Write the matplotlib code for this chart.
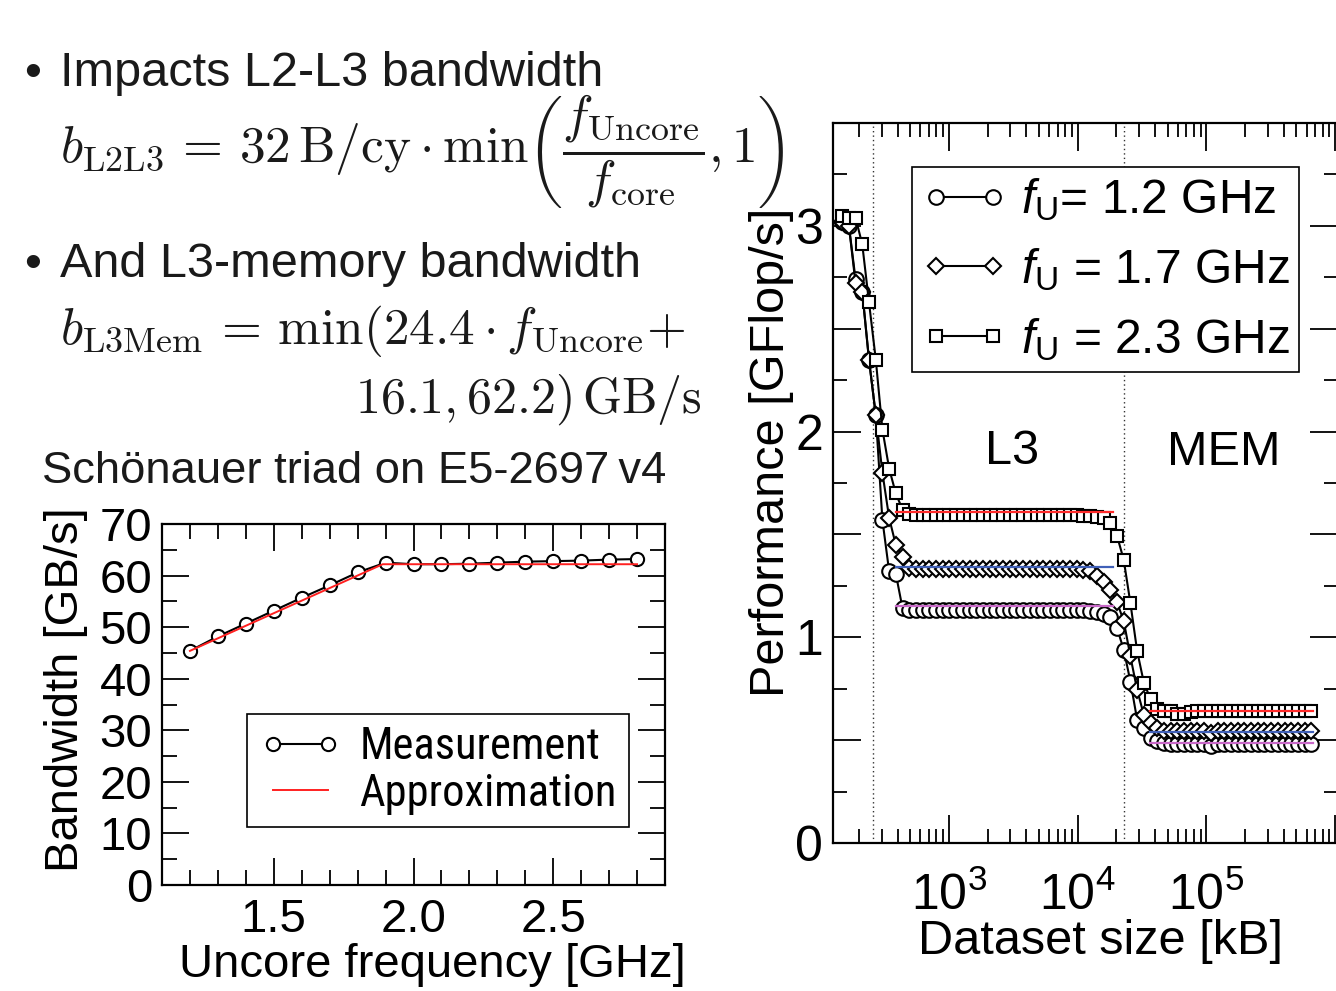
import matplotlib
matplotlib.use('Agg')
import matplotlib.pyplot as plt
from matplotlib import font_manager
from matplotlib.ticker import MultipleLocator, LogLocator, NullFormatter, FuncFormatter
from matplotlib.font_manager import FontProperties

plt.rcParams['font.family'] = ['Liberation Sans', 'DejaVu Sans']
plt.rcParams['mathtext.fontset'] = 'custom'
plt.rcParams['mathtext.rm'] = 'Liberation Sans'
plt.rcParams['mathtext.it'] = 'Liberation Sans:italic'
plt.rcParams['mathtext.bf'] = 'Liberation Sans:bold'

# ---------------- data: left chart (Schoenauer triad) ----------------
uncore_freq = [1.2, 1.3, 1.4, 1.5, 1.6, 1.7, 1.8, 1.9, 2.0, 2.1, 2.2, 2.3, 2.4, 2.5, 2.6, 2.7, 2.8]
bandwidth_meas = [45.4, 48.2, 50.7, 53.2, 55.7, 58.1, 60.6, 62.5, 62.2, 62.2, 62.3, 62.5,
                  62.7, 62.8, 62.9, 63.1, 63.2]
approx_freq = [1.2, 1.89, 2.8]
approx_bw = [45.4, 62.2, 62.2]
left_labels = ['Measurement', 'Approximation']

# ---------------- data: right chart (performance vs dataset size) ----------------
dataset_kb = [148, 167, 188, 212, 239, 270, 304, 343, 386, 436,
              491, 554, 624, 704, 793, 894, 1008, 1137, 1281, 1445,
              1629, 1836, 2070, 2334, 2631, 2966, 3344, 3770, 4251, 4792,
              5403, 6091, 6867, 7742, 8728, 9840, 11094, 12507, 14100, 15897,
              17922, 20205, 22779, 25681, 28953, 32641, 36800, 41488, 46773, 52732,
              59450, 67024, 75562, 85189, 96042, 108277, 122071, 137622, 155155, 174921,
              197205, 222328, 250652, 282584, 318584, 359170, 404927, 456512, 514670, 580236,
              654155]
perf_12 = [3.02, 3.00, 2.74, 2.68, 2.35, 2.08, 1.57, 1.32, 1.31, 1.14,
           1.135, 1.135, 1.135, 1.135, 1.135, 1.135, 1.135, 1.135, 1.135, 1.135,
           1.135, 1.135, 1.135, 1.135, 1.135, 1.135, 1.135, 1.135, 1.135, 1.135,
           1.135, 1.135, 1.135, 1.135, 1.135, 1.135, 1.135, 1.13, 1.125, 1.115,
           1.10, 1.045, 0.94, 0.785, 0.60, 0.558, 0.51, 0.495, 0.485, 0.48,
           0.48, 0.48, 0.48, 0.48, 0.48, 0.47, 0.48, 0.48, 0.48, 0.48,
           0.48, 0.48, 0.48, 0.48, 0.48, 0.48, 0.48, 0.48, 0.48, 0.48,
           0.48]
perf_17 = [3.02, 3.00, 2.72, 2.68, 2.35, 2.08, 1.80, 1.58, 1.45, 1.39,
           1.335, 1.33, 1.33, 1.33, 1.33, 1.33, 1.33, 1.33, 1.33, 1.33,
           1.33, 1.33, 1.33, 1.33, 1.33, 1.33, 1.33, 1.33, 1.33, 1.33,
           1.33, 1.33, 1.33, 1.33, 1.33, 1.33, 1.325, 1.32, 1.30, 1.27,
           1.23, 1.17, 1.08, 0.907, 0.745, 0.623, 0.582, 0.56, 0.545, 0.545,
           0.545, 0.545, 0.545, 0.545, 0.545, 0.535, 0.545, 0.545, 0.545, 0.545,
           0.545, 0.545, 0.545, 0.545, 0.545, 0.545, 0.545, 0.545, 0.545, 0.545,
           0.545]
perf_23 = [3.05, 3.04, 3.04, 2.91, 2.63, 2.35, 2.01, 1.82, 1.70, 1.62,
           1.60, 1.595, 1.595, 1.595, 1.595, 1.595, 1.595, 1.595, 1.595, 1.595,
           1.595, 1.595, 1.595, 1.595, 1.595, 1.595, 1.595, 1.595, 1.595, 1.595,
           1.595, 1.595, 1.595, 1.595, 1.595, 1.595, 1.59, 1.59, 1.585, 1.58,
           1.556, 1.494, 1.377, 1.166, 0.934, 0.78, 0.70, 0.65, 0.64, 0.64,
           0.625, 0.625, 0.635, 0.64, 0.64, 0.64, 0.64, 0.64, 0.64, 0.64,
           0.64, 0.64, 0.64, 0.64, 0.64, 0.64, 0.64, 0.64, 0.64, 0.64,
           0.64]
series_labels = [r'$f_\mathrm{U}$= 1.2 GHz', r'$f_\mathrm{U}$ = 1.7 GHz', r'$f_\mathrm{U}$ = 2.3 GHz']
approx_l3_range = [389, 18900]
approx_mem_range = [36500, 670000]
approx_l3_perf = [1.15, 1.34, 1.61]
approx_mem_perf = [0.488, 0.539, 0.64]
approx_colors = ['#c868c8', '#4060b8', '#ff2a2a']
cache_boundaries_kb = [256, 23040]
region_labels = ['L3', 'MEM']
region_x = [3100, 137000]
region_y = [1.905, 1.90]

# ---------------- condensed font for the left legend ----------------
avail = {f.name for f in font_manager.fontManager.ttflist}
narrow_prop = None
for cand in ['Liberation Sans Narrow', 'Arial Narrow', 'Nimbus Sans Narrow', 'Roboto Condensed',
             'Noto Sans ExtraCondensed', 'Noto Sans Condensed', 'Open Sans Condensed',
             'DejaVu Sans Condensed']:
    if cand in avail:
        narrow_prop = FontProperties(family=cand, size=32)
        break
if narrow_prop is None:
    for f in font_manager.fontManager.ttflist:
        st = str(f.stretch).lower()
        if ('condensed' in st or 'narrow' in st) and f.style == 'normal' and \
                str(f.weight) in ('400', 'normal', 'regular', 'book'):
            narrow_prop = FontProperties(fname=f.fname, size=32)
            break
if narrow_prop is None:
    narrow_prop = FontProperties(family='Liberation Sans', size=29.5)

# ---------------- figure ----------------
W, H = 1336, 991
fig = plt.figure(figsize=(W / 100, H / 100), dpi=100)
fig.patch.set_facecolor('white')


def fx(px):
    return px / W


def fy(py):
    return 1 - py / H


TXT = '#1a1a1a'
FS = 35
MFS = 37

# slide text
fig.text(fx(24), fy(86), '\u2022', fontsize=FS, color=TXT, va='baseline', ha='left')
fig.text(fx(60), fy(86), 'Impacts L2-L3 bandwidth', fontsize=FS, color=TXT, va='baseline', ha='left')
fig.text(fx(60), fy(152),
         r'$b_{\mathrm{L2L3}}\,=\,32\,\mathrm{B/cy}\cdot\min\left(\dfrac{f_{\mathrm{Uncore}}}{f_{\mathrm{core}}},1\right)$',
         fontsize=MFS, color=TXT, va='center', ha='left', math_fontfamily='cm')
fig.text(fx(24), fy(277), '\u2022', fontsize=FS, color=TXT, va='baseline', ha='left')
fig.text(fx(60), fy(277), 'And L3-memory bandwidth', fontsize=FS, color=TXT, va='baseline', ha='left')
fig.text(fx(60), fy(344), r'$b_{\mathrm{L3Mem}}\,=\,\min(24.4\cdot f_{\mathrm{Uncore}}{+}$',
         fontsize=MFS, color=TXT, va='baseline', ha='left', math_fontfamily='cm')
fig.text(fx(702), fy(413), r'$16.1,62.2)\,\mathrm{GB/s}$',
         fontsize=MFS - 1, color=TXT, va='baseline', ha='right', math_fontfamily='cm')
fig.text(fx(42), fy(483), 'Schönauer triad on E5-2697\u2009v4', fontsize=32.7, color=TXT,
         va='baseline', ha='left')

# ---------------- left axes ----------------
axL = fig.add_axes([fx(162), fy(885), (665 - 162) / W, (885 - 524) / H])
axL.plot(uncore_freq, bandwidth_meas, '-o', color='black', mfc='white', mec='black',
         ms=9.5, mew=1.5, lw=1.5, label=left_labels[0], zorder=2)
axL.plot(approx_freq, approx_bw, '-', color='#ff2020', lw=1.4, label=left_labels[1], zorder=3)
axL.set_xlim(1.1, 2.9)
axL.set_ylim(0, 70)
axL.xaxis.set_major_locator(MultipleLocator(0.5))
axL.xaxis.set_minor_locator(MultipleLocator(0.1))
axL.yaxis.set_major_locator(MultipleLocator(10))
axL.yaxis.set_minor_locator(MultipleLocator(5))
axL.tick_params(which='both', direction='in', top=True, right=True, width=1.3, colors='black')
axL.tick_params(which='major', length=19.5, labelsize=34)
axL.tick_params(which='minor', length=10.5)
axL.tick_params(axis='y', which='major', pad=7)
axL.tick_params(axis='x', which='major', pad=9)
for s in axL.spines.values():
    s.set_linewidth(1.6)
axL.set_xlabel('Uncore frequency [GHz]', fontsize=34)
axL.set_ylabel('Bandwidth [GB/s]', fontsize=34)
axL.xaxis.set_label_coords(0.537, -0.222)
axL.xaxis.label.set_va('center')
axL.yaxis.set_label_coords(-0.19, 0.54)
axL.yaxis.label.set_va('center')
legL = axL.legend(loc='upper left', bbox_to_anchor=(0.169, 0.474), borderaxespad=0,
                  prop=narrow_prop, numpoints=2, handlelength=1.85, handletextpad=0.4,
                  borderpad=0.28, labelspacing=0.1, fancybox=False, framealpha=1,
                  edgecolor='black')
legL.get_frame().set_linewidth(1.2)

# ---------------- right axes ----------------
axR = fig.add_axes([fx(833), fy(843), (1338 - 833) / W, (843 - 123) / H])
axR.set_xscale('log')
for xb in cache_boundaries_kb:
    axR.axvline(xb, color='#333333', lw=1.0, ls=(0, (1, 2.2)), zorder=1)
hC, = axR.plot(dataset_kb, perf_12, '-o', color='black', mfc='white', mec='black',
               ms=10.5, mew=1.5, lw=1.5, zorder=2)
hD, = axR.plot(dataset_kb, perf_17, '-D', color='black', mfc='white', mec='black',
               ms=8, mew=1.5, lw=1.5, zorder=3)
hS, = axR.plot(dataset_kb, perf_23, '-s', color='black', mfc='white', mec='black',
               ms=9, mew=1.5, lw=1.5, zorder=4)
for yl3, ymem, c in zip(approx_l3_perf, approx_mem_perf, approx_colors):
    axR.plot(approx_l3_range, [yl3, yl3], color=c, lw=1.6, zorder=6)
    axR.plot(approx_mem_range, [ymem, ymem], color=c, lw=1.6, zorder=6)
for lab, xx, yy in zip(region_labels, region_x, region_y):
    axR.text(xx, yy, lab, fontsize=35, ha='center', va='center', color='black')

axR.set_xlim(125.6, 1.053e6)
axR.set_ylim(0, 3.5)
axR.xaxis.set_major_locator(LogLocator(base=10, numticks=20))
axR.xaxis.set_minor_locator(LogLocator(base=10, subs=[2, 3, 4, 5, 6, 7, 8, 9], numticks=50))
axR.xaxis.set_minor_formatter(NullFormatter())


def fmt_log(v, pos):
    import math
    e = int(round(math.log10(v)))
    if 3 <= e <= 5:
        return r'$10^{%d}$' % e
    return ''


axR.xaxis.set_major_formatter(FuncFormatter(fmt_log))
axR.yaxis.set_major_locator(MultipleLocator(0.5))
axR.yaxis.set_minor_locator(MultipleLocator(0.25))
axR.yaxis.set_major_formatter(FuncFormatter(lambda v, p: '%d' % round(v) if abs(v - round(v)) < 1e-6 else ''))
axR.tick_params(which='both', direction='in', top=True, right=True, width=1.3, colors='black')
axR.tick_params(which='major', length=20, labelsize=36)
axR.tick_params(which='minor', length=10)
axR.tick_params(axis='y', which='major', pad=7)
axR.tick_params(axis='x', which='major', pad=21)
for s in axR.spines.values():
    s.set_linewidth(1.6)
axR.set_xlabel('Dataset size [kB]', fontsize=35)
axR.set_ylabel('Performance [GFlop/s]', fontsize=35)
axR.xaxis.set_label_coords(0.529, -0.137)
axR.xaxis.label.set_va('center')
axR.yaxis.set_label_coords(-0.122, 0.543)
axR.yaxis.label.set_va('center')
legR = axR.legend([hC, hD, hS], series_labels, loc='upper left', bbox_to_anchor=(0.156, 0.939),
                  borderaxespad=0, fontsize=34.5, numpoints=2, handlelength=1.8, handletextpad=0.28,
                  borderpad=0.2, labelspacing=0.48, fancybox=False, framealpha=1, edgecolor='black')
legR.get_frame().set_linewidth(1.2)

fig.savefig('out.png', dpi=100, facecolor='white')
